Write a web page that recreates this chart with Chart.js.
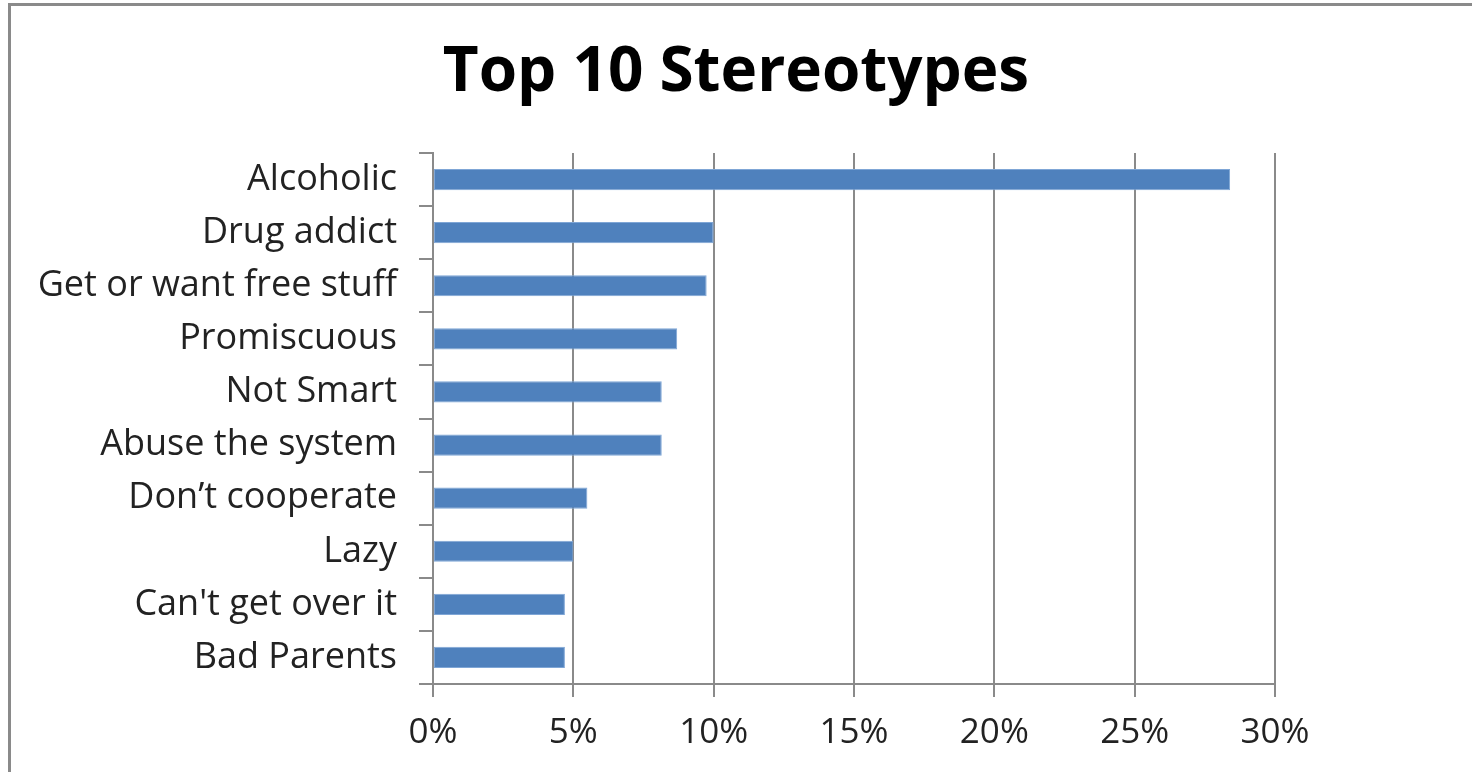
<!DOCTYPE html>
<html>
<head>
<meta charset="utf-8">
<script src="https://cdn.jsdelivr.net/npm/chart.js@4.4.1/dist/chart.umd.min.js"></script>
<style>
  body { margin: 0; background: #fff; overflow: hidden; }
  #frame {
    position: absolute; left: 8px; top: 3px; width: 1500px; height: 820px;
    border: 3px solid #8a8a8a; box-sizing: border-box;
  }
  #chart_top10 { position: absolute; left: 0; top: 0; }
</style>
</head>
<body>
<div id="frame"></div>
<canvas id="chart_top10" width="1472" height="772"></canvas>
<script>
const categories = [
  "Alcoholic",
  "Drug addict",
  "Get or want free stuff",
  "Promiscuous",
  "Not Smart",
  "Abuse the system",
  "Don\u2019t cooperate",
  "Lazy",
  "Can't get over it",
  "Bad Parents",
];
const shares = [28.4, 10.0, 9.75, 8.7, 8.15, 8.15, 5.5, 5.0, 4.7, 4.7];
const tickValues = [0, 5, 10, 15, 20, 25, 30];
const chartTitle = "Top 10 Stereotypes";

// title centred on the whole page, not on the padded layout box
const pageTitle = {
  id: "pageTitle",
  afterDraw(chart) {
    const c = chart.ctx;
    c.save();
    c.font = "bold 62px 'Open Sans'";
    c.fillStyle = "#000";
    c.textAlign = "center";
    c.textBaseline = "middle";
    c.fillText(chartTitle, chart.width / 2, 73);
    c.restore();
  },
};

const ctxTop = document.getElementById("chart_top10").getContext("2d");

const myChartTop = new Chart(ctxTop, {
  type: "bar",
  data: {
    labels: categories,
    datasets: [
      {
        data: shares,
        backgroundColor: "#4f81bd",
        borderColor: "#7fa6d6",
        borderWidth: 1,
        borderSkipped: false,
        barPercentage: 0.4,
        categoryPercentage: 1,
      },
    ],
  },
  plugins: [pageTitle],
  options: {
    indexAxis: "y",
    responsive: false,
    animation: false,
    layout: {
      padding: { top: 153, right: 197, bottom: 0, left: 0 },
    },
    plugins: {
      legend: { display: false },
      tooltip: { enabled: false },
      title: { display: false },
    },
    scales: {
      x: {
        min: 0,
        max: 30,
        afterFit: (scale) => { scale.height = 88; },
        afterBuildTicks: (scale) => {
          scale.ticks = tickValues.map((v) => ({ value: v }));
        },
        border: { color: "#8a8a8a", width: 2 },
        grid: {
          color: "#8a8a8a",
          lineWidth: 2,
          drawOnChartArea: true,
          drawTicks: true,
          tickLength: 13,
        },
        ticks: {
          color: "#222",
          padding: 15,
          font: { family: "Open Sans", size: 35 },
          callback: (v) => v + "%",
        },
      },
      y: {
        afterFit: (scale) => { scale.width = 433; },
        border: { color: "#8a8a8a", width: 2 },
        grid: {
          offset: true,
          color: "#8a8a8a",
          lineWidth: 2,
          drawOnChartArea: false,
          tickLength: 14,
        },
        ticks: {
          color: "#222",
          padding: 22,
          font: { family: "Open Sans", size: 36 },
        },
      },
    },
  },
});
</script>
</body>
</html>
